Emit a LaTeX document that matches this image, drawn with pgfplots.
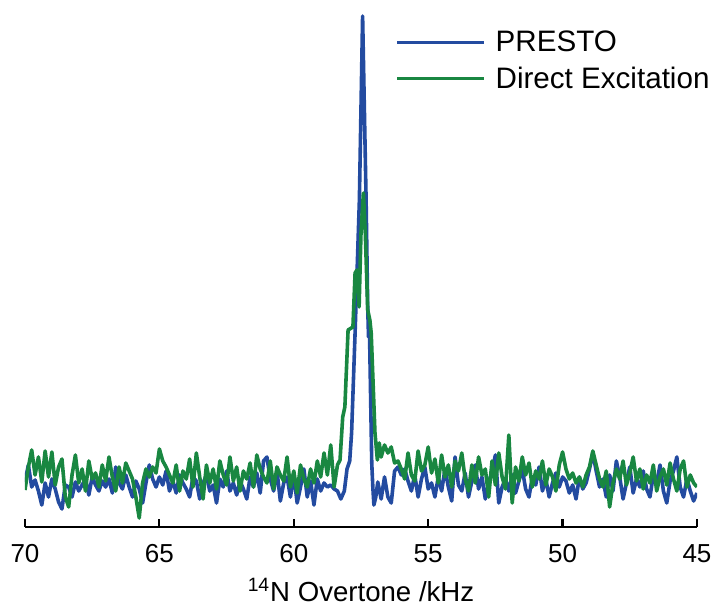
\documentclass[border=0pt]{standalone}
\usepackage{fontspec}
\setmainfont{Liberation Sans}
\usepackage{pgfplots}
\pgfplotsset{compat=1.18}
\definecolor{presto}{RGB}{35,75,160}
\definecolor{direct}{RGB}{25,135,65}
\begin{document}
\begin{tikzpicture}
\useasboundingbox (-12.5pt,-40.5pt) rectangle (345.5pt,263.5pt);
\begin{axis}[
 at={(0pt,0pt)}, anchor=south west,
 scale only axis, width=336pt, height=258.5pt,
 x dir=reverse, xmin=45, xmax=70, ymin=0, ymax=517,
 axis x line*=bottom, axis y line=none,
 xtick={45,50,...,70},
 tick align=inside, major tick length=4pt,
 every tick/.style={line width=1.1pt, black},
 axis line style={line width=1.1pt, black},
 /pgf/number format/assume math mode=true,
 xticklabel style={font=\fontsize{13}{15}\selectfont, anchor=base, yshift=-18pt},
 xlabel={\textsuperscript{14}N Overtone /kHz},
 xlabel style={font=\fontsize{13.8}{16}\selectfont, at={(axis description cs:0.5,0)}, anchor=base, yshift=-37.5pt},
 legend style={draw=none, fill=none, at={(0.551,0.968)}, anchor=north west, font=\fontsize{14.8}{17}\selectfont, row sep=2pt, inner sep=0pt, /tikz/every odd column/.append style={column sep=3pt}},
 legend cell align=left,
 legend image code/.code={\draw[#1,line width=1.5pt] (0pt,0pt) -- (43.5pt,0pt);},
 every axis plot/.append style={line width=1.8pt, line join=round},
]
\addplot[presto] coordinates {
(70.0,45) (69.875,62) (69.75,40) (69.625,47) (69.5,36) (69.375,22) (69.25,44) (69.125,30)
(69.0,48) (68.875,38) (68.75,25) (68.625,18) (68.5,42) (68.375,40) (68.25,30) (68.125,45)
(68.0,36) (67.875,42) (67.75,48) (67.625,32) (67.5,50) (67.375,42) (67.25,36) (67.125,46)
(67.0,40) (66.875,48) (66.75,34) (66.625,60) (66.5,44) (66.375,38) (66.25,52) (66.125,40)
(66.0,30) (65.875,46) (65.75,38) (65.625,24) (65.5,44) (65.375,62) (65.25,48) (65.125,40)
(65.0,50) (64.875,42) (64.75,56) (64.625,36) (64.5,46) (64.375,34) (64.25,52) (64.125,44)
(64.0,38) (63.875,30) (63.75,50) (63.625,46) (63.5,28) (63.375,44) (63.25,52) (63.125,36)
(63.0,42) (62.875,24) (62.75,48) (62.625,40) (62.5,56) (62.375,36) (62.25,44) (62.125,32)
(62.0,46) (61.875,38) (61.75,28) (61.625,50) (61.5,40) (61.375,54) (61.25,34) (61.125,66)
(61.0,70) (60.875,48) (60.75,36) (60.625,56) (60.5,26) (60.375,44) (60.25,50) (60.125,30)
(60.0,52) (59.875,24) (59.75,40) (59.625,58) (59.5,30) (59.375,46) (59.25,22) (59.125,48)
(59.0,36) (58.875,44) (58.75,40) (58.625,42) (58.5,38) (58.375,36)
(58.25,28) (58.12,36) (58.02,58) (57.92,66) (57.85,94) (57.72,194) (57.56,327) (57.44,511)
(57.31,327) (57.25,220) (57.22,190) (57.19,205) (57.10,64) (57.06,40) (57.02,22)
(56.95,30) (56.875,45) (56.75,28) (56.625,50) (56.5,30) (56.375,24) (56.25,56) (56.125,60) (56.0,52)
(55.875,58) (55.75,46) (55.625,36) (55.5,52) (55.375,30) (55.25,48) (55.125,60) (55.0,38)
(54.875,44) (54.75,30) (54.625,50) (54.5,36) (54.375,58) (54.25,40) (54.125,26) (54.0,70)
(53.875,42) (53.75,36) (53.625,54) (53.5,30) (53.375,46) (53.25,62) (53.125,38) (53.0,50)
(52.875,28) (52.75,44) (52.625,56) (52.5,72) (52.375,24) (52.25,40) (52.125,48) (52.0,36)
(51.875,52) (51.75,34) (51.625,46) (51.5,58) (51.375,38) (51.25,30) (51.125,50) (51.0,42)
(50.875,60) (50.75,36) (50.625,48) (50.5,30) (50.375,44) (50.25,54) (50.125,40) (50.0,50)
(49.875,46) (49.75,34) (49.625,42) (49.5,28) (49.375,50) (49.25,38) (49.125,44) (49.0,58)
(48.875,74) (48.75,56) (48.625,40) (48.5,48) (48.375,30) (48.25,52) (48.125,36) (48.0,66)
(47.875,50) (47.75,28) (47.625,44) (47.5,60) (47.375,34) (47.25,48) (47.125,40) (47.0,56)
(46.875,38) (46.75,30) (46.625,52) (46.5,44) (46.375,62) (46.25,36) (46.125,24) (46.0,46)
(45.875,56) (45.75,70) (45.625,40) (45.5,30) (45.375,48) (45.25,36) (45.125,26) (45.0,34)
};
\addlegendentry{PRESTO}
\addplot[direct] coordinates {
(70.0,37) (69.875,60) (69.75,77) (69.625,52) (69.5,70) (69.375,45) (69.25,76) (69.125,50)
(69.0,75) (68.875,42) (68.75,60) (68.625,68) (68.5,30) (68.375,20) (68.25,52) (68.125,72)
(68.0,44) (67.875,58) (67.75,36) (67.625,66) (67.5,48) (67.375,54) (67.25,40) (67.125,62)
(67.0,46) (66.875,70) (66.75,50) (66.625,36) (66.5,60) (66.375,44) (66.25,64) (66.125,56)
(66.0,48) (65.875,30) (65.75,9) (65.625,44) (65.5,58) (65.375,50) (65.25,60) (65.125,54)
(65.0,78) (64.875,66) (64.75,60) (64.625,52) (64.5,44) (64.375,62) (64.25,36) (64.125,56)
(64.0,48) (63.875,68) (63.75,40) (63.625,74) (63.5,50) (63.375,28) (63.25,62) (63.125,44)
(63.0,58) (62.875,38) (62.75,66) (62.625,52) (62.5,42) (62.375,70) (62.25,46) (62.125,60)
(62.0,36) (61.875,56) (61.75,48) (61.625,64) (61.5,40) (61.375,72) (61.25,58) (61.125,50)
(61.0,44) (60.875,66) (60.75,38) (60.625,60) (60.5,52) (60.375,46) (60.25,70) (60.125,40)
(60.0,56) (59.875,34) (59.75,62) (59.625,48) (59.5,40) (59.375,58) (59.25,44) (59.125,66)
(59.0,50) (58.875,74) (58.75,52) (58.625,82) (58.5,40) (58.375,62)
(58.28,67) (58.18,110) (58.10,120) (57.98,197) (57.80,200) (57.72,254) (57.65,257) (57.57,220)
(57.50,294) (57.41,334) (57.34,294) (57.25,217) (57.17,207) (57.12,194) (56.98,94) (56.89,67)
(56.82,84) (56.75,70) (56.625,82) (56.5,74) (56.375,80) (56.25,64) (56.125,66) (56.0,58)
(55.875,48) (55.75,74) (55.625,52) (55.5,46) (55.375,76) (55.25,56) (55.125,62) (55.0,80)
(54.875,54) (54.75,68) (54.625,44) (54.5,72) (54.375,50) (54.25,62) (54.125,40) (54.0,66)
(53.875,56) (53.75,74) (53.625,48) (53.5,36) (53.375,62) (53.25,44) (53.125,70) (53.0,52)
(52.875,58) (52.75,30) (52.625,66) (52.5,42) (52.375,74) (52.25,50) (52.125,38) (52.0,92)
(51.875,24) (51.75,60) (51.625,46) (51.5,70) (51.375,52) (51.25,64) (51.125,40) (51.0,56)
(50.875,48) (50.75,66) (50.625,42) (50.5,58) (50.375,50) (50.25,36) (50.125,62) (50.0,75)
(49.875,58) (49.75,48) (49.625,54) (49.5,44) (49.375,50) (49.25,40) (49.125,52) (49.0,60)
(48.875,76) (48.75,62) (48.625,48) (48.5,40) (48.375,56) (48.25,20) (48.125,44) (48.0,58)
(47.875,48) (47.75,66) (47.625,42) (47.5,54) (47.375,70) (47.25,46) (47.125,58) (47.0,38)
(46.875,52) (46.75,44) (46.625,62) (46.5,36) (46.375,50) (46.25,58) (46.125,42) (46.0,64)
(45.875,48) (45.75,36) (45.625,58) (45.5,66) (45.375,40) (45.25,52) (45.125,44) (45.0,40)
};
\addlegendentry{Direct Excitation}
\end{axis}
\end{tikzpicture}
\end{document}
